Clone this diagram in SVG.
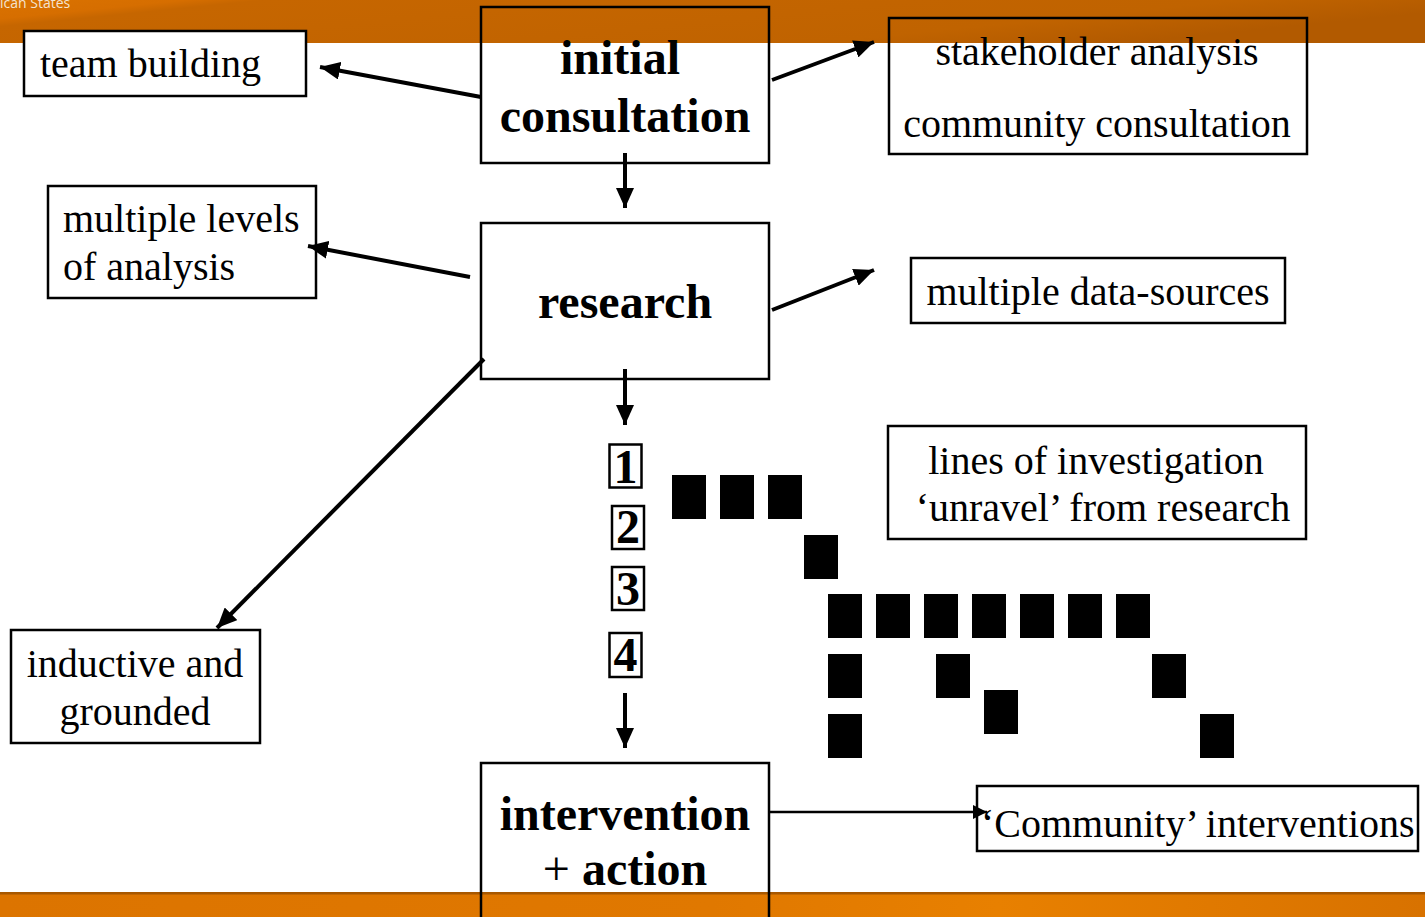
<svg xmlns="http://www.w3.org/2000/svg" width="1425" height="917" viewBox="0 0 1425 917">
<style>
.box{fill:none;stroke:#000;stroke-width:2.5}
.t{font-family:"Liberation Serif","Times New Roman",serif;font-size:40px;fill:#000}
.b{font-family:"Liberation Serif","Times New Roman",serif;font-size:48px;font-weight:bold;fill:#000}
.n{font-family:"Liberation Serif","Times New Roman",serif;font-size:48px;font-weight:bold;fill:#000;text-anchor:middle}
.c{text-anchor:middle}
.arr{stroke:#000;stroke-width:4;fill:none;marker-end:url(#ah)}
.arr2{stroke:#000;stroke-width:2.5;fill:none;marker-end:url(#ah2)}
.sq{fill:#000}
</style>
<defs>
<marker id="ah" markerUnits="userSpaceOnUse" markerWidth="22" markerHeight="18" refX="20" refY="9" orient="auto">
<path d="M0,0 L20,9 L0,18 Z" fill="#000"/>
</marker>
<marker id="ah2" markerUnits="userSpaceOnUse" markerWidth="16" markerHeight="14" refX="14" refY="7" orient="auto">
<path d="M0,0 L14,7 L0,14 Z" fill="#000"/>
</marker>
<linearGradient id="topg" x1="0" y1="0" x2="1" y2="0.3">
<stop offset="0" stop-color="#da7200"/>
<stop offset="0.12" stop-color="#d66e00"/>
<stop offset="0.17" stop-color="#c66600"/>
<stop offset="0.8" stop-color="#c06300"/>
<stop offset="1" stop-color="#b25a00"/>
</linearGradient>
<linearGradient id="botg" x1="0" y1="0" x2="1" y2="0">
<stop offset="0" stop-color="#dc7400"/>
<stop offset="0.5" stop-color="#e07800"/>
<stop offset="0.7" stop-color="#e88000"/>
<stop offset="1" stop-color="#d87200"/>
</linearGradient>
</defs>
<rect width="1425" height="917" fill="#fff"/>
<g id="banner-top">
<rect x="0" y="0" width="1425" height="43" fill="url(#topg)"/>
<text x="0" y="8" font-family="'Open Sans','Noto Sans',sans-serif" font-size="14" fill="#f4e4d0">ican States</text>
</g>
<g id="banner-bottom">
<rect x="0" y="892" width="1425" height="25" fill="url(#botg)"/>
<rect x="0" y="892" width="1425" height="2.5" fill="#a85800"/>
</g>

<g id="connectors">
<line class="arr" x1="481" y1="97" x2="320" y2="67"/>
<line class="arr" x1="772" y1="80" x2="874" y2="42"/>
<line class="arr" x1="625" y1="153" x2="625" y2="208"/>
<line class="arr" x1="470" y1="277" x2="308" y2="246"/>
<line class="arr" x1="772" y1="310" x2="874" y2="270"/>
<line class="arr" x1="484" y1="359" x2="217" y2="628"/>
<line class="arr" x1="625" y1="369" x2="625" y2="425"/>
<line class="arr" x1="625" y1="693" x2="625" y2="748"/>
<line class="arr2" x1="769" y1="812" x2="987" y2="812"/>
</g>

<g id="team-building">
<rect x="24" y="31" width="282" height="65" fill="#fff" stroke="#000" stroke-width="2.5"/>
<text class="t" x="40" y="77">team building</text>
</g>
<g id="initial-consultation">
<rect class="box" x="481" y="7" width="288" height="156"/>
<text class="b c" x="620" y="74">initial</text>
<text class="b c" x="625" y="132">consultation</text>
</g>
<g id="stakeholder">
<rect class="box" x="889" y="18" width="418" height="136"/>
<text class="t c" x="1097" y="65">stakeholder analysis</text>
<text class="t c" x="1097" y="137">community consultation</text>
</g>
<g id="multiple-levels">
<rect class="box" x="48" y="186" width="268" height="112"/>
<text class="t" x="63" y="232">multiple levels</text>
<text class="t" x="63" y="280">of analysis</text>
</g>
<g id="research">
<rect class="box" x="481" y="223" width="288" height="156"/>
<text class="b c" x="625" y="318">research</text>
</g>
<g id="data-sources">
<rect class="box" x="911" y="258" width="374" height="65"/>
<text class="t c" x="1098" y="305">multiple data-sources</text>
</g>
<g id="lines-of-investigation">
<rect class="box" x="888" y="426" width="418" height="113"/>
<text class="t c" x="1096" y="474">lines of investigation</text>
<text class="t c" x="1103" y="521">‘unravel’ from research</text>
</g>
<g id="inductive">
<rect class="box" x="11" y="630" width="249" height="113"/>
<text class="t c" x="135" y="677">inductive and</text>
<text class="t c" x="135" y="725">grounded</text>
</g>
<g id="intervention">
<rect class="box" x="481" y="763" width="288" height="170"/>
<text class="b c" x="625" y="830">intervention</text>
<text class="b c" x="625" y="885"><tspan font-weight="normal">+</tspan> action</text>
</g>
<g id="community-interventions">
<rect class="box" x="977" y="786" width="441" height="65"/>
<text class="t" x="981" y="837">‘Community’ interventions</text>
</g>

<g id="numbers">
<rect class="box" x="609.5" y="444.5" width="32" height="43" stroke-width="2"/>
<text class="n" x="625.5" y="483">1</text>
<rect class="box" x="612" y="506" width="32" height="43" stroke-width="2"/>
<text class="n" x="628" y="543">2</text>
<rect class="box" x="612" y="567" width="32" height="43" stroke-width="2"/>
<text class="n" x="628" y="605">3</text>
<rect class="box" x="609.5" y="633" width="32" height="44" stroke-width="2"/>
<text class="n" x="625.5" y="671">4</text>
</g>

<g id="squares">
<rect class="sq" x="672" y="475" width="34" height="44"/>
<rect class="sq" x="720" y="475" width="34" height="44"/>
<rect class="sq" x="768" y="475" width="34" height="44"/>
<rect class="sq" x="804" y="535" width="34" height="44"/>
<rect class="sq" x="828" y="594" width="34" height="44"/>
<rect class="sq" x="876" y="594" width="34" height="44"/>
<rect class="sq" x="924" y="594" width="34" height="44"/>
<rect class="sq" x="972" y="594" width="34" height="44"/>
<rect class="sq" x="1020" y="594" width="34" height="44"/>
<rect class="sq" x="1068" y="594" width="34" height="44"/>
<rect class="sq" x="1116" y="594" width="34" height="44"/>
<rect class="sq" x="828" y="654" width="34" height="44"/>
<rect class="sq" x="936" y="654" width="34" height="44"/>
<rect class="sq" x="1152" y="654" width="34" height="44"/>
<rect class="sq" x="984" y="690" width="34" height="44"/>
<rect class="sq" x="828" y="714" width="34" height="44"/>
<rect class="sq" x="1200" y="714" width="34" height="44"/>
</g>
</svg>
